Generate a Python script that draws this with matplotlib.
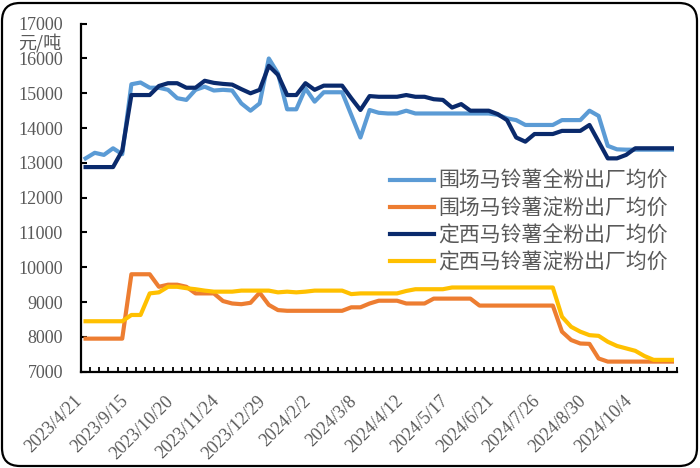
import matplotlib
matplotlib.use("Agg")
import matplotlib.pyplot as plt
import matplotlib.patches as mpatches
from matplotlib.transforms import IdentityTransform
from matplotlib.ticker import FixedLocator, MultipleLocator

# ---------------- data ----------------
tick_labels = ["2023/4/21", "2023/9/15", "2023/10/20", "2023/11/24", "2023/12/29",
               "2024/2/2", "2024/3/8", "2024/4/12", "2024/5/17", "2024/6/21",
               "2024/7/26", "2024/8/30", "2024/10/4"]

weichang_full = [13130, 13290, 13230, 13420, 13250, 15260, 15310, 15160, 15160, 15100,
                 14860, 14810, 15100, 15190, 15080, 15100, 15080, 14710, 14500, 14710,
                 16000, 15570, 14540, 14540, 15140, 14760, 15030, 15030, 15030, 14380,
                 13730, 14520, 14440, 14420, 14420, 14500, 14420, 14420, 14420, 14420,
                 14420, 14420, 14420, 14420, 14420, 14380, 14280, 14230, 14090, 14090,
                 14090, 14090, 14230, 14230, 14230, 14500, 14350, 13490, 13390, 13380,
                 13380, 13380, 13380, 13380, 13380]

weichang_starch = [7950, 7950, 7950, 7950, 7950, 9800, 9800, 9800, 9440, 9500,
                   9500, 9440, 9250, 9250, 9250, 9030, 8960, 8940, 8980, 9270,
                   8920, 8770, 8750, 8750, 8750, 8750, 8750, 8750, 8750, 8850,
                   8850, 8960, 9040, 9040, 9040, 8960, 8960, 8960, 9100, 9100,
                   9100, 9100, 9100, 8900, 8900, 8900, 8900, 8900, 8900, 8900,
                   8900, 8900, 8150, 7910, 7810, 7800, 7380, 7290, 7290, 7290,
                   7290, 7290, 7290, 7290, 7290]

dingxi_full = [12880, 12880, 12880, 12880, 13350, 14950, 14950, 14950, 15210, 15290,
               15290, 15160, 15160, 15360, 15300, 15270, 15250, 15120, 15000, 15100,
               15790, 15530, 14950, 14950, 15290, 15100, 15220, 15220, 15220, 14860,
               14520, 14920, 14900, 14900, 14900, 14950, 14900, 14900, 14830, 14810,
               14590, 14690, 14500, 14500, 14500, 14400, 14230, 13730, 13610, 13830,
               13830, 13830, 13920, 13920, 13920, 14090, 13610, 13130, 13130, 13230,
               13420, 13420, 13420, 13420, 13420]

dingxi_starch = [8450, 8450, 8450, 8450, 8450, 8630, 8630, 9250, 9280, 9440,
                 9440, 9400, 9370, 9330, 9300, 9300, 9300, 9330, 9330, 9330,
                 9330, 9280, 9300, 9280, 9300, 9330, 9330, 9330, 9330, 9230,
                 9250, 9250, 9250, 9250, 9250, 9320, 9370, 9370, 9370, 9370,
                 9420, 9420, 9420, 9420, 9420, 9420, 9420, 9420, 9420, 9420,
                 9420, 9420, 8580, 8290, 8150, 8050, 8030, 7860, 7740, 7670,
                 7600, 7450, 7340, 7340, 7340]

series_names = ["围场马铃薯全粉出厂均价", "围场马铃薯淀粉出厂均价",
                "定西马铃薯全粉出厂均价", "定西马铃薯淀粉出厂均价"]
series_colors = ["#5B9BD5", "#ED7D31", "#0A2A6C", "#FFC000"]

# ---------------- figure ----------------
plt.rcParams['font.family'] = ['Liberation Serif', 'Noto Sans CJK SC', 'DejaVu Sans']
gray = "#595959"

fig = plt.figure(figsize=(7.0, 4.68), dpi=100)
ax = fig.add_axes([81 / 700, 1 - 371.7 / 468, (676.5 - 81) / 700, (371.7 - 23.7) / 468])

x = list(range(len(weichang_full)))
for vals, name, col in zip([weichang_full, weichang_starch, dingxi_full, dingxi_starch],
                           series_names, series_colors):
    ax.plot(x, vals, color=col, lw=3.0, label=name, solid_joinstyle='round')

ax.set_xlim(-0.5, len(x) - 0.5)
ax.set_ylim(7000, 17000)
ax.yaxis.set_major_locator(MultipleLocator(1000))

ax.xaxis.set_major_locator(FixedLocator(list(range(0, len(x), 5))))
ax.set_xticklabels(tick_labels)
ax.xaxis.set_minor_locator(FixedLocator([i - 0.5 for i in range(len(x) + 1)]))

ax.tick_params(axis='x', which='major', length=0, pad=15, labelsize=13, labelcolor=gray)
ax.tick_params(axis='x', which='minor', direction='in', length=3.5, width=1.3, color='black')
ax.tick_params(axis='y', which='major', direction='in', length=4.5, width=1.5,
               pad=13, labelsize=13, labelcolor=gray)
for lbl in ax.get_xticklabels():
    lbl.set_rotation(45)
    lbl.set_ha('right')
    lbl.set_va('top')

for s in ['top', 'right']:
    ax.spines[s].set_visible(False)
for s in ['left', 'bottom']:
    ax.spines[s].set_linewidth(1.6)
    ax.spines[s].set_color('black')

fig.text(40 / 700, 1 - 43 / 468, "元/吨", ha='center', va='center', fontsize=13,
         color=gray, family=['Noto Sans CJK SC', 'DejaVu Sans'])

leg = ax.legend(loc='upper left', bbox_to_anchor=(390 / 700, 1 - 170 / 468),
                bbox_transform=fig.transFigure, frameon=False,
                prop={'family': ['Noto Sans CJK SC', 'DejaVu Sans'], 'size': 15},
                handlelength=2.1, handletextpad=0.2, labelspacing=0.25,
                borderpad=0, borderaxespad=0)
for t in leg.get_texts():
    t.set_color(gray)

border = mpatches.FancyBboxPatch((2, 2), 695, 463,
                                 boxstyle="round,pad=0,rounding_size=18",
                                 transform=IdentityTransform(), fill=False,
                                 edgecolor='black', lw=1.6)
fig.patches.append(border)

fig.savefig("out.png", dpi=100)
